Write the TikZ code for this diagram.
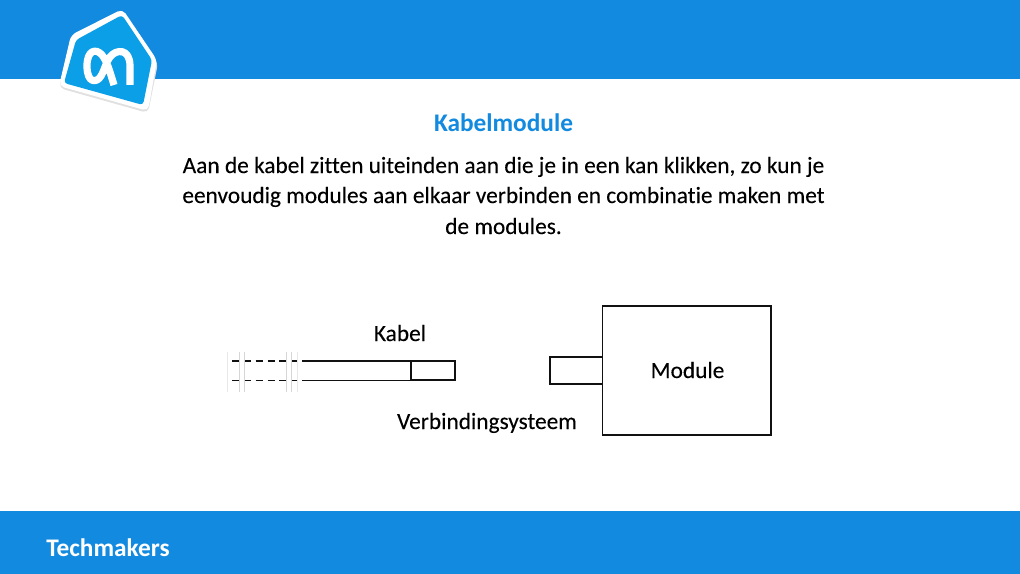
\documentclass[tikz,border=0pt]{standalone}
\usepackage{fontspec}
\setmainfont[Ligatures=NoCommon,FakeBold=0.12]{Carlito}
\newfontfamily\boldface[Ligatures=NoCommon,BoldFont={Carlito Bold}]{Carlito}
\definecolor{ahblue}{HTML}{128ADF}
\definecolor{logoblue}{HTML}{0A9FE6}
\definecolor{ink}{HTML}{111111}
\tikzset{
  band/.style={fill=ahblue,draw=none},
  wire/.style={draw=ink,line width=1.3pt},
  boxed/.style={draw=ink,line width=1.2pt,fill=none,inner sep=0pt,outer sep=0pt},
  tickline/.style={line width=0.6pt},
  wiredash/.style={draw=ink,line width=1.4pt,dash pattern=on 5.2pt off 3.7pt},
  body/.style={font=\fontsize{17.5}{17.5}\selectfont,text=black,inner sep=0pt,anchor=base},
  logoglyph/.style={draw=white,line width=5.4pt,line cap=butt,line join=round},
}
\begin{document}
\begin{tikzpicture}[x=0.75pt,y=-0.75pt]
\useasboundingbox (0,0) rectangle (1020,574);
\fill[white] (0,0) rectangle (1020,574);
\fill[band] (0,0) rectangle (1020,79);
\fill[band] (0,511) rectangle (1020,574);
% logo
\fill[black!12,rounded corners=4pt] (122.5,11) -- (158,63) -- (148,113) -- (59,88) -- (72,37) -- cycle;
\fill[white,rounded corners=4pt] (122.5,9) -- (157,60) -- (148,111) -- (59,86) -- (71,35) -- cycle;
\fill[logoblue,rounded corners=2.5pt] (122,15) -- (152,60) -- (143,105) -- (64,83) -- (76,40) -- cycle;
\draw[logoglyph] (114,85) .. controls (110,72) and (107,61) .. (102,55)
   .. controls (96,48) and (87,50) .. (87,66)
   .. controls (87,84) and (97,83) .. (101,76)
   .. controls (105,69) and (106,62) .. (110,57)
   .. controls (116,49) and (130,48) .. (130,66) -- (130,85);
% texts
\node[font=\boldface\bfseries\fontsize{19}{19}\selectfont,text=ahblue,inner sep=0pt,anchor=base] (title) at (503.5,132) {Kabelmodule};
\node[body] (line1) at (503.5,173) {Aan de kabel zitten uiteinden aan die je in een kan klikken, zo kun je};
\node[body] (line2) at (503.5,203) {eenvoudig modules aan elkaar verbinden en combinatie maken met};
\node[body] (line3) at (503.5,234) {de modules.};
\node[body] (kabel) at (400,341) {Kabel};
\node[body] (verb) at (487,429) {Verbindingsysteem};
\node[font=\boldface\bfseries\fontsize{19}{19}\selectfont,text=white,inner sep=0pt,anchor=base west] (tech) at (46,556) {Techmakers};
% module
\node[boxed,minimum width=126.4pt,minimum height=96.75pt] (module) at (686.7,370.5) {};
\node[body] (modlabel) at (687.5,378) {Module};
\node[boxed,minimum width=39.2pt,minimum height=20.2pt,anchor=east] (plug) at (module.west |- 0,370.3) {};
% cable
\node[boxed,minimum width=33pt,minimum height=14.5pt,anchor=east] (conn) at (455,370.6) {};
\coordinate (ts) at (302,361); \coordinate (bs) at (302,380.5);
\draw[wire] (ts) -- (ts -| conn.west);
\draw[wire] (bs) -- (bs -| conn.west);
\coordinate (td) at (232,361); \coordinate (bd) at (232,380.5);
\coordinate (tde) at (298,361); \coordinate (bde) at (298,380.5);
\draw[wiredash] (td) -- (tde);
\draw[wiredash] (bd) -- (bde);
% break ticks
\foreach \x/\s in {227.5/{black!9},239.5/{black!16},244/{black!16},286/{black!16},291/{black!16},297.5/{black!9}}{
  \draw[tickline,draw=\s] (\x,352) -- (\x,392);
}
\end{tikzpicture}
\end{document}
